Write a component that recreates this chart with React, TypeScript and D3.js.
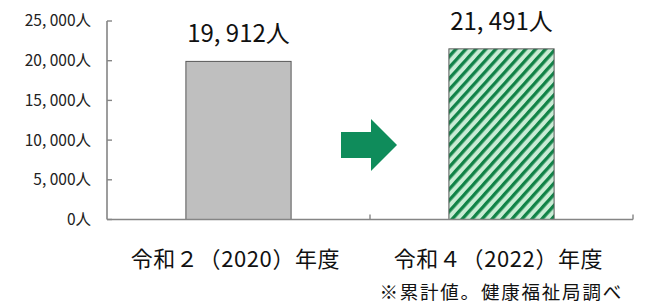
import React, { useRef, useEffect } from "react";
import * as d3 from "d3";

const categories = ["令和２（2020）年度", "令和４（2022）年度"];
const values = [19912, 21491];
const yTickValues = [0, 5000, 10000, 15000, 20000, 25000];
const note = "※累計値。健康福祉局調べ";

const width = 645;
const height = 307;
const font = "'Noto Sans CJK JP', 'Noto Sans', sans-serif";

const fmt = (v: number) => d3.format(",")(v).replace(",", ", ") + "人";

const App = () => {
  const ref: any = useRef();

  useEffect(() => {
    const svg = d3.select(ref.current);
    svg.selectAll("*").remove();

    const x = d3
      .scaleBand()
      .domain(categories)
      .range([107, 633])
      .paddingInner(0.6)
      .paddingOuter(0.3);

    const y = d3.scaleLinear().domain([0, 25000]).range([219.5, 21]);

    const defs = svg.append("defs");
    const pat = defs
      .append("pattern")
      .attr("id", "stripes")
      .attr("patternUnits", "userSpaceOnUse")
      .attr("width", 7.4)
      .attr("height", 7.4)
      .attr("patternTransform", "rotate(42)");
    pat.append("rect").attr("width", 7.4).attr("height", 7.4).attr("fill", "#c9ecd5");
    pat
      .append("rect")
      .attr("x", 0)
      .attr("width", 3.3)
      .attr("height", 7.4)
      .attr("fill", "#118348");

    const fills = ["#bfbfbf", "url(#stripes)"];

    // bars
    svg
      .selectAll(".bar")
      .data(values)
      .enter()
      .append("rect")
      .attr("class", "bar")
      .attr("x", (d, i) => x(categories[i]) as number)
      .attr("y", (d) => y(d))
      .attr("width", x.bandwidth())
      .attr("height", (d) => y(0) - y(d))
      .attr("fill", (d, i) => fills[i])
      .attr("stroke", "#595959")
      .attr("stroke-width", 1);

    // value labels
    svg
      .selectAll(".val")
      .data(values)
      .enter()
      .append("text")
      .attr("x", (d, i) => (x(categories[i]) as number) + x.bandwidth() / 2)
      .attr("y", (d) => y(d) - 19)
      .attr("text-anchor", "middle")
      .attr("font-family", font)
      .attr("font-size", 24)
      .attr("fill", "#111")
      .text((d) => fmt(d));

    // y axis
    const yAxis = svg.append("g").attr("transform", "translate(107,0)");
    yAxis
      .append("line")
      .attr("y1", y(25000))
      .attr("y2", y(0))
      .attr("stroke", "#858585")
      .attr("stroke-width", 1.6);
    yTickValues.forEach((v) => {
      yAxis
        .append("line")
        .attr("x1", 0)
        .attr("x2", 5)
        .attr("y1", y(v))
        .attr("y2", y(v))
        .attr("stroke", "#858585")
        .attr("stroke-width", 1.4);
      yAxis
        .append("text")
        .attr("x", -16)
        .attr("y", y(v))
        .attr("dy", "0.35em")
        .attr("text-anchor", "end")
        .attr("font-family", font)
        .attr("font-size", 15.5)
        .attr("fill", "#222")
        .text(fmt(v));
    });

    // x axis
    const [x0, x1] = x.range();
    svg
      .append("line")
      .attr("x1", x0)
      .attr("x2", x1)
      .attr("y1", y(0))
      .attr("y2", y(0))
      .attr("stroke", "#858585")
      .attr("stroke-width", 1.6);
    const step = x.step();
    [1, 2].forEach((k) => {
      svg
        .append("line")
        .attr("x1", x0 + k * step)
        .attr("x2", x0 + k * step)
        .attr("y1", y(0))
        .attr("y2", y(0) - 5)
        .attr("stroke", "#858585")
        .attr("stroke-width", 1.4);
    });

    svg
      .selectAll(".cat")
      .data(categories)
      .enter()
      .append("text")
      .attr("x", (d) => (x(d) as number) + x.bandwidth() / 2 - 3)
      .attr("y", 267)
      .attr("text-anchor", "middle")
      .attr("font-family", font)
      .attr("font-size", 22)
      .attr("letter-spacing", 0.6)
      .attr("fill", "#111")
      .text((d) => d);

    // arrow between the bars
    const ax = x0 + step;
    const ay = 145;
    const pts: [number, number][] = [
      [ax - 29, ay - 13],
      [ax + 1, ay - 13],
      [ax + 1, ay - 26],
      [ax + 27, ay],
      [ax + 1, ay + 26],
      [ax + 1, ay + 13],
      [ax - 29, ay + 13],
    ];
    svg
      .append("polygon")
      .attr("points", pts.map((p) => p.join(",")).join(" "))
      .attr("fill", "#0f8c5b");

    svg
      .append("text")
      .attr("x", 623)
      .attr("y", 299)
      .attr("text-anchor", "end")
      .attr("font-family", font)
      .attr("font-size", 18.5)
      .attr("letter-spacing", 1.8)
      .attr("fill", "#111")
      .text(note);
  }, []);

  return (
    <svg
      ref={ref}
      width={width}
      height={height}
      style={{ position: "fixed", left: 0, top: 0, background: "#fff" }}
    ></svg>
  );
};

export default App;
